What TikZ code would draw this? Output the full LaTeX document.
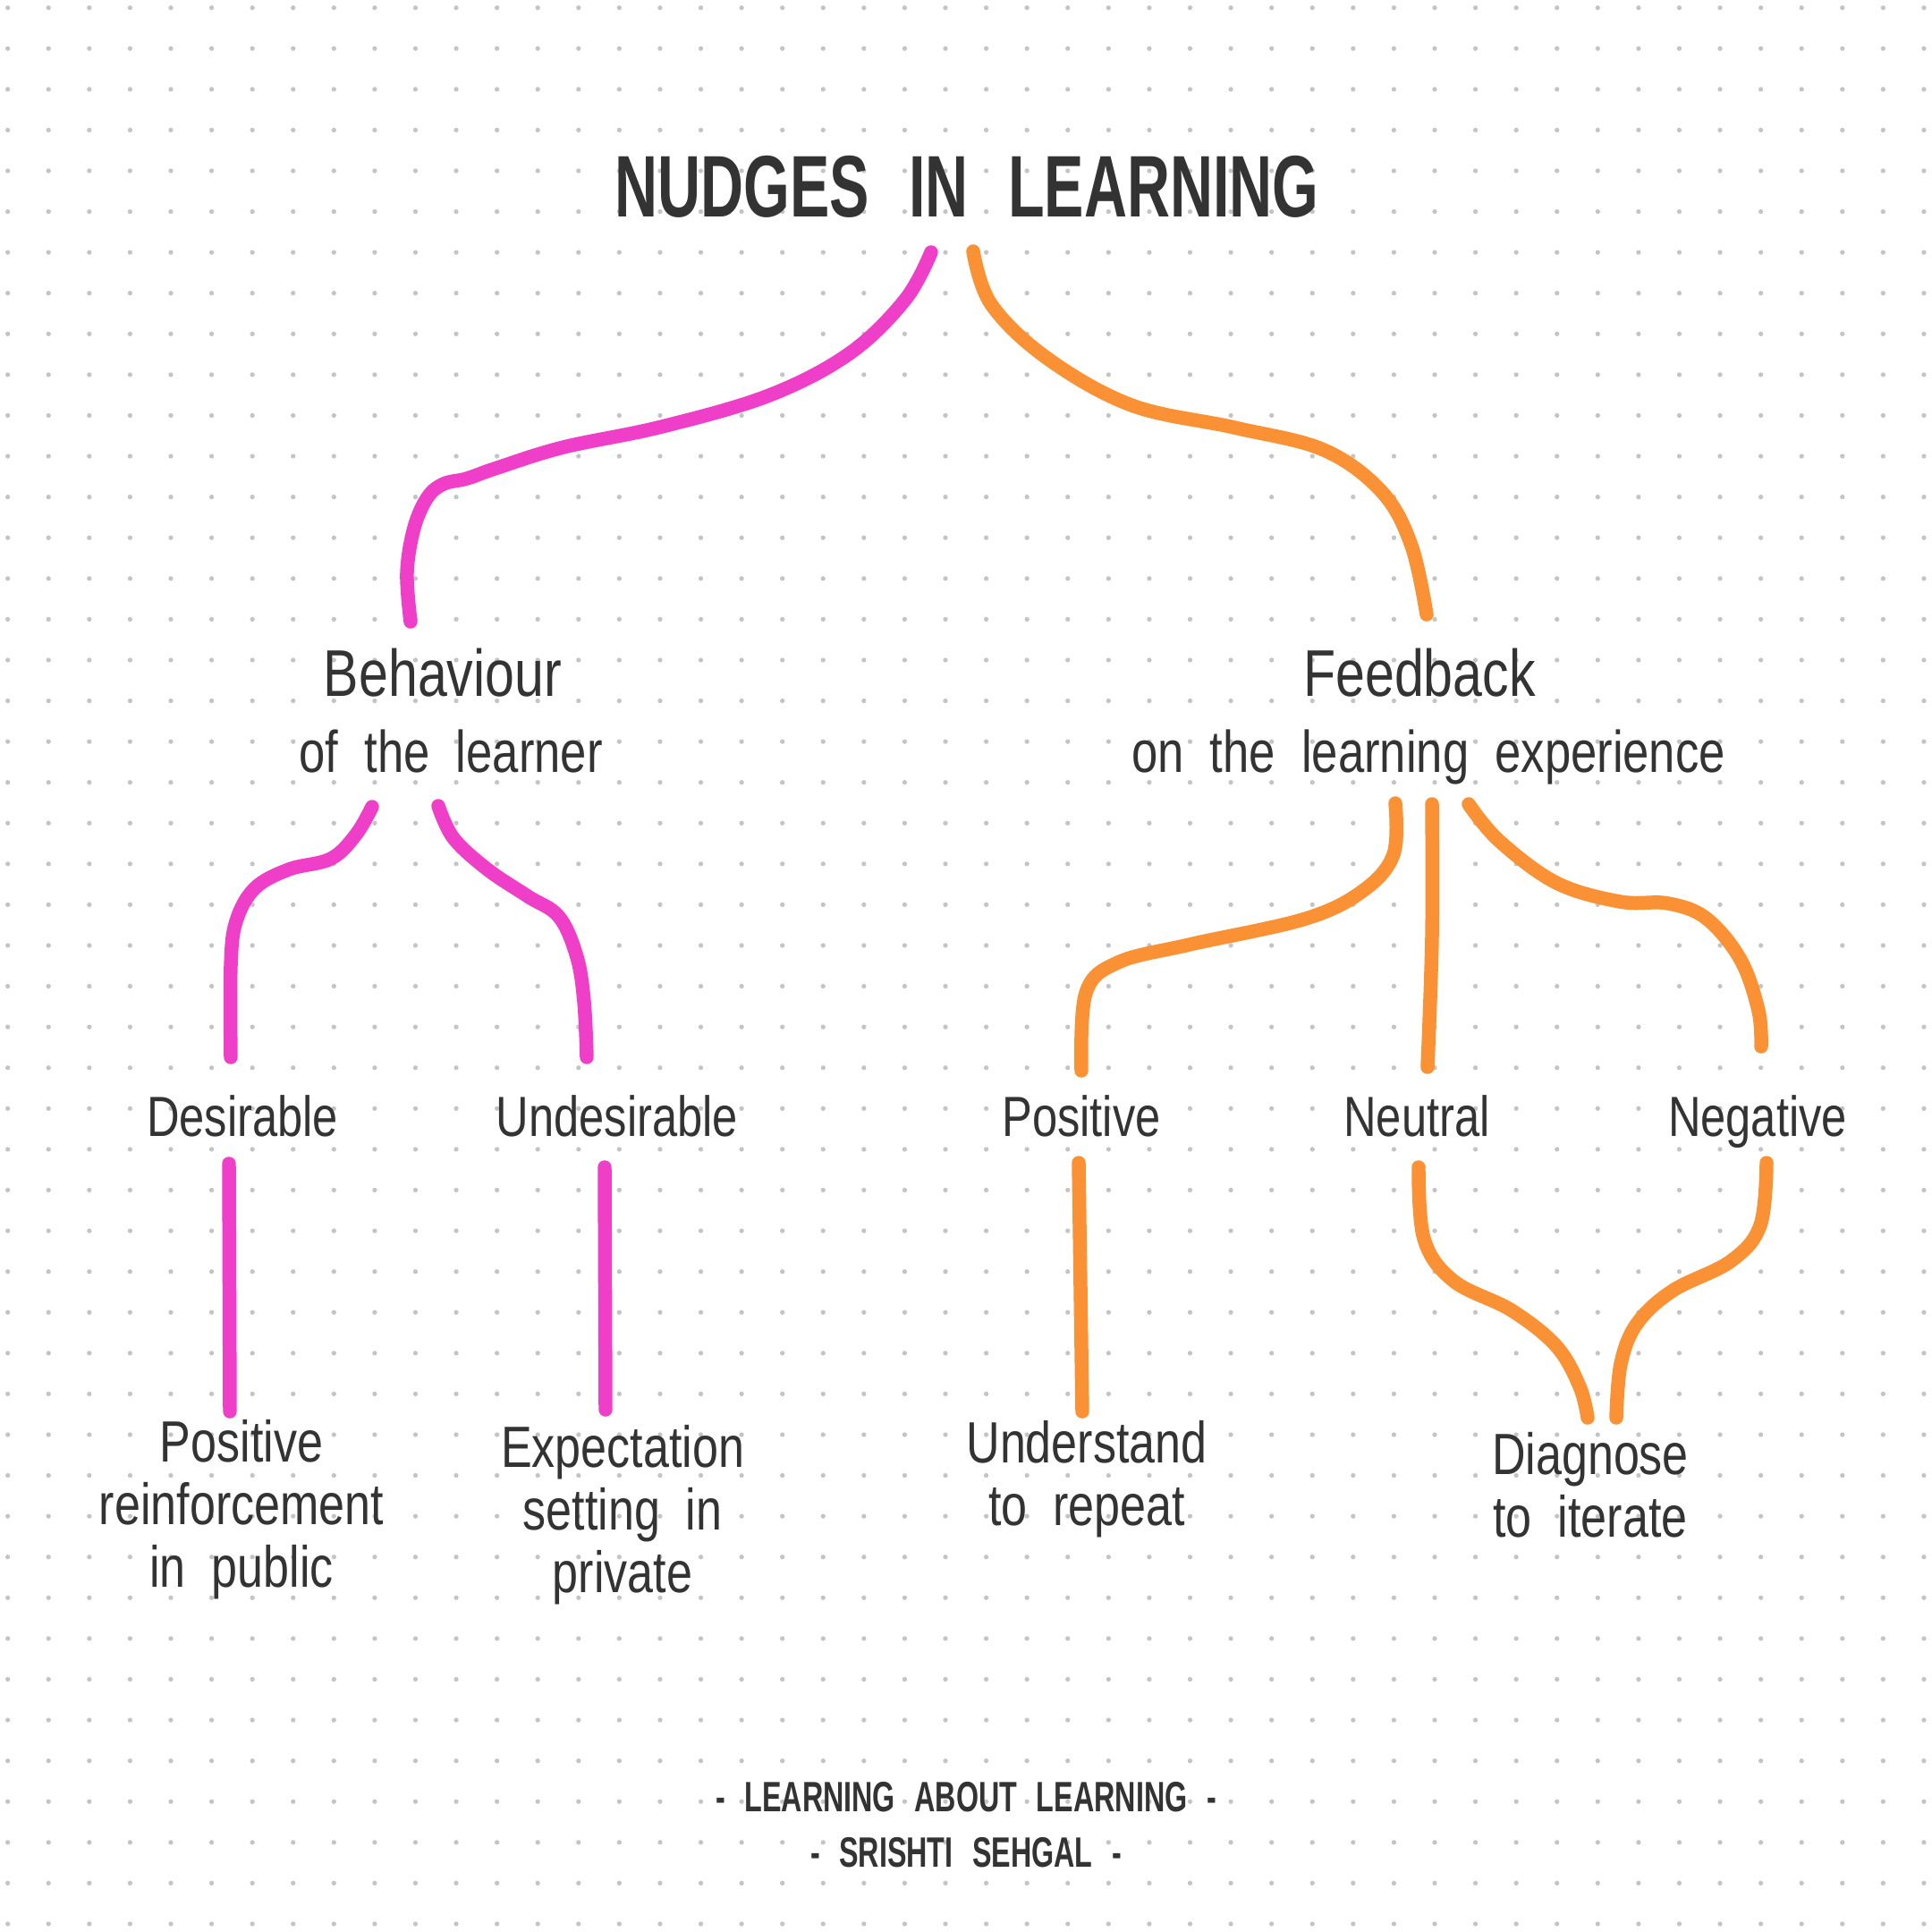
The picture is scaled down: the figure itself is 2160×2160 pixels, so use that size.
\documentclass[tikz,border=0pt]{standalone}
\usepackage{fontspec}
\newfontfamily\handfont[FakeStretch=0.8,WordSpace=2]{Liberation Sans}
\newfontfamily\capsfont[FakeStretch=0.68,WordSpace=2.4]{Liberation Sans}
\definecolor{inkgray}{HTML}{333333}
\definecolor{dotgray}{RGB}{196,196,196}
\definecolor{nudgepink}{HTML}{EF3FC9}
\definecolor{nudgeorange}{HTML}{FA9134}
\tikzset{
  pinkline/.style={draw=nudgepink,line width=4.4pt,line cap=round,line join=round},
  orangeline/.style={draw=nudgeorange,line width=4.4pt,line cap=round,line join=round},
  txt/.style={anchor=base,inner sep=0pt,text=inkgray,align=center},
  titletext/.style={txt,font=\capsfont\bfseries\fontsize{27.8}{30}\selectfont},
  headtext/.style={txt,font=\handfont\fontsize{21}{24}\selectfont},
  subtext/.style={txt,font=\handfont\fontsize{18.7}{22}\selectfont},
  branchtext/.style={txt,font=\handfont\fontsize{18}{20}\selectfont},
  leaftext/.style={txt,font=\handfont\fontsize{18.5}{19.8}\selectfont},
  foottext/.style={txt,font=\capsfont\bfseries\fontsize{13.5}{17.5}\selectfont}
}
\begin{document}
\begin{tikzpicture}[x=0.01cm,y=-0.01cm]
  \useasboundingbox (0,0) rectangle (2160,2160);
  \fill[white] (0,0) rectangle (2160,2160);
  \foreach \i in {0,...,47}
    \foreach \j in {0,...,47}
      \fill[dotgray] ({8.67+45.58*\i},{8.67+45.58*\j}) circle[radius=0.75pt];

  % texts (base = last line)
  \node[titletext] (title) at (1081,242) {NUDGES IN LEARNING};
  \node[headtext] (behav) at (495,778) {Behaviour};
  \node[subtext] (behavsub) at (504,863) {of the learner};
  \node[headtext] (feed) at (1587,778) {Feedback};
  \node[subtext] (feedsub) at (1597,863) {on the learning experience};
  \node[branchtext] (des) at (271,1270) {Desirable};
  \node[branchtext] (undes) at (690,1270) {Undesirable};
  \node[branchtext] (pos) at (1209,1270) {Positive};
  \node[branchtext] (neu) at (1584,1270) {Neutral};
  \node[branchtext] (neg) at (1965,1270) {Negative};
  \node[leaftext] (public) at (270,1774) {Positive\\reinforcement\\in public};
  \node[leaftext] (private) at (696,1780) {Expectation\\setting in\\private};
  \node[leaftext] (repeat) at (1215,1705) {Understand\\to repeat};
  \node[leaftext] (iterate) at (1778,1718) {Diagnose\\to iterate};
  \node[foottext] (foot) at (1080,2087) {- LEARNING ABOUT LEARNING -\\- SRISHTI SEHGAL -};

  % connector ends
  \coordinate (title-l) at (1041,282);
  \coordinate (title-r) at (1088,281);
  \coordinate (behav-top) at (459,695);
  \coordinate (feed-top) at (1595,687);
  \coordinate (behav-l) at (416,902);
  \coordinate (behav-r) at (490,901);
  \coordinate (des-top) at (258,1182);
  \coordinate (undes-top) at (656,1182);
  \coordinate (feed-l) at (1560,898);
  \coordinate (feed-m) at (1601,899);
  \coordinate (feed-r) at (1642,899);
  \coordinate (pos-top) at (1209,1197);
  \coordinate (neu-top) at (1596,1193);
  \coordinate (neg-top) at (1969,1170);
  \coordinate (des-bot) at (256,1301);
  \coordinate (public-top) at (257,1578);
  \coordinate (undes-bot) at (676,1305);
  \coordinate (private-top) at (677,1576);
  \coordinate (pos-bot) at (1206,1300);
  \coordinate (repeat-top) at (1210,1578);
  \coordinate (neu-bot) at (1586,1305);
  \coordinate (neg-bot) at (1975,1300);
  \coordinate (iterate-l) at (1775,1585);
  \coordinate (iterate-r) at (1807,1585);

  % pink branch
  \draw[pinkline] plot[smooth,tension=0.6] coordinates {(title-l) (1012,335) (950,395) (860,442) (740,477) (630,500) (556,523) (522,535) (496,541) (478,556) (463,590) (455,640) (behav-top)};
  \draw[pinkline] plot[smooth,tension=0.6] coordinates {(behav-l) (398,933) (370,960) (323,972) (285,993) (264,1030) (258,1080) (des-top)};
  \draw[pinkline] plot[smooth,tension=0.6] coordinates {(behav-r) (507,937) (545,972) (590,1002) (625,1025) (645,1070) (653,1120) (undes-top)};
  \draw[pinkline] (des-bot) -- (public-top);
  \draw[pinkline] (undes-bot) -- (private-top);

  % orange branch
  \draw[orangeline] plot[smooth,tension=0.6] coordinates {(title-r) (1108,340) (1170,400) (1265,453) (1380,478) (1480,503) (1545,550) (1578,610) (feed-top)};
  \draw[orangeline] plot[smooth,tension=0.6] coordinates {(feed-l) (1558,955) (1525,995) (1460,1027) (1330,1056) (1250,1076) (1214,1110) (pos-top)};
  \draw[orangeline] plot[smooth,tension=0.6] coordinates {(feed-m) (1601,1047) (neu-top)};
  \draw[orangeline] plot[smooth,tension=0.6] coordinates {(feed-r) (1676,940) (1740,987) (1811,1008) (1865,1010) (1908,1027) (1946,1073) (1966,1130) (neg-top)};
  \draw[orangeline] (pos-bot) -- (repeat-top);
  \draw[orangeline] plot[smooth,tension=0.6] coordinates {(neu-bot) (1592,1385) (1625,1432) (1690,1465) (1740,1505) (1766,1550) (iterate-l)};
  \draw[orangeline] plot[smooth,tension=0.6] coordinates {(neg-bot) (1968,1370) (1935,1410) (1870,1443) (1830,1480) (1812,1525) (iterate-r)};
\end{tikzpicture}
\end{document}
